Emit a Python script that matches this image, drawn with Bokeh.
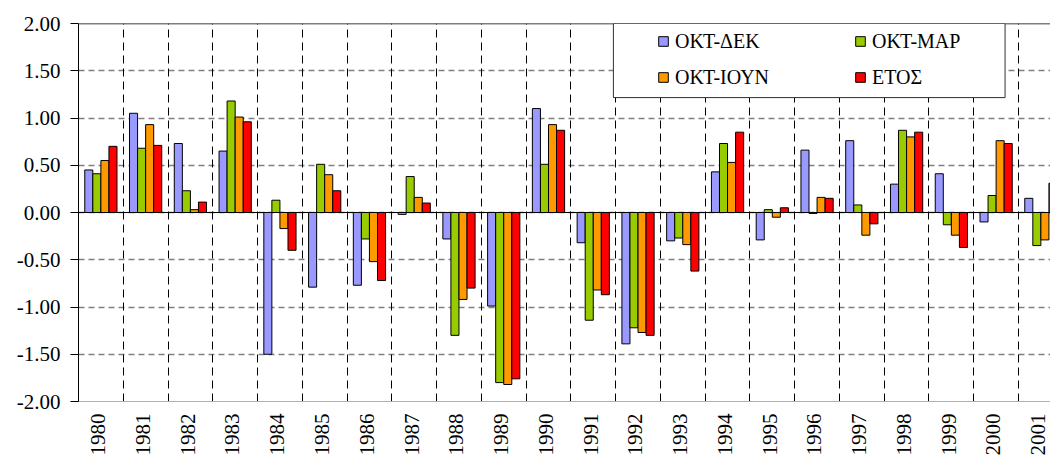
import numpy as np
from bokeh.plotting import figure
from bokeh.models import (Range1d, FixedTicker, Grid, Span, BoxAnnotation, Legend,
                          LegendItem, NumeralTickFormatter)
from bokeh.embed import file_html
from bokeh.resources import INLINE

# ---- data ----
years = [1980, 1981, 1982, 1983, 1984, 1985, 1986, 1987, 1988, 1989, 1990,
         1991, 1992, 1993, 1994, 1995, 1996, 1997, 1998, 1999, 2000, 2001]
okt_dek = [0.45, 1.05, 0.73, 0.65, -1.50, -0.79, -0.77, -0.02, -0.28, -0.99, 1.10,
           -0.32, -1.39, -0.30, 0.43, -0.29, 0.66, 0.76, 0.30, 0.41, -0.10, 0.15]
okt_mar = [0.41, 0.68, 0.23, 1.18, 0.13, 0.51, -0.28, 0.38, -1.30, -1.80, 0.51,
           -1.14, -1.22, -0.27, 0.73, 0.03, -0.01, 0.08, 0.87, -0.13, 0.18, -0.35]
okt_ioun = [0.55, 0.93, 0.03, 1.01, -0.17, 0.40, -0.52, 0.16, -0.92, -1.82, 0.93,
            -0.82, -1.27, -0.34, 0.53, -0.05, 0.16, -0.24, 0.80, -0.24, 0.76, -0.29]
etos = [0.70, 0.71, 0.11, 0.96, -0.40, 0.23, -0.72, 0.10, -0.80, -1.76, 0.87,
        -0.87, -1.30, -0.62, 0.85, 0.05, 0.15, -0.12, 0.85, -0.37, 0.73, 0.31]
series_labels = ["ΟΚΤ-ΔΕΚ", "ΟΚΤ-ΜΑΡ", "ΟΚΤ-ΙΟΥΝ", "ΕΤΟΣ"]
y_ticks = [-2.0, -1.5, -1.0, -0.5, 0.0, 0.5, 1.0, 1.5, 2.0]

# ---- style ----
FONT = "'Liberation Serif', 'Times New Roman', Times, serif"
colors = ["#9999FF", "#99CC00", "#FF9900", "#FF0000"]
offsets = [-0.27, -0.09, 0.09, 0.27]
BAR_W = 0.18
LABEL_SHIFT = -0.06   # rotated year labels sit slightly left of the group centre

p = figure(width=1050, height=462, output_backend="svg", toolbar_location=None,
           x_range=Range1d(-0.5, 21.215), y_range=Range1d(y_ticks[0], y_ticks[-1]),
           min_border_left=78, min_border_right=0, min_border_top=23, min_border_bottom=61)
p.outline_line_color = None
p.background_fill_color = "white"
p.border_fill_color = "white"

idx = np.arange(len(years))
renderers = []
for vals, col, off in zip([okt_dek, okt_mar, okt_ioun, etos], colors, offsets):
    r = p.vbar(x=idx + off, top=vals, bottom=0, width=BAR_W,
               fill_color=col, line_color="black", line_width=1)
    renderers.append(r)

# x axis
tick_pos = [float(i) + LABEL_SHIFT for i in idx]
p.xaxis.ticker = FixedTicker(ticks=tick_pos)
p.xaxis.major_label_overrides = {t: str(y) for t, y in zip(tick_pos, years)}
p.xaxis.major_label_orientation = np.pi / 2
p.xaxis.major_tick_out = 0
p.xaxis.major_tick_in = 0
p.xaxis.minor_tick_line_color = None
p.xaxis.axis_line_color = "#b0b0b0"
p.xaxis.major_label_standoff = 12
p.xaxis.major_label_text_font = FONT
p.xaxis.major_label_text_font_size = "21px"
p.xaxis.major_label_text_color = "black"

# y axis
p.yaxis.ticker = FixedTicker(ticks=y_ticks)
p.yaxis.formatter = NumeralTickFormatter(format="0.00")
p.yaxis.major_tick_out = 8
p.yaxis.major_tick_in = 0
p.yaxis.minor_tick_line_color = None
p.yaxis.axis_line_color = "black"
p.yaxis.major_tick_line_color = "black"
p.yaxis.major_label_standoff = 10
p.yaxis.major_label_text_font = FONT
p.yaxis.major_label_text_font_size = "21px"
p.yaxis.major_label_text_color = "black"

# grids
p.xgrid.visible = False
p.ygrid.ticker = FixedTicker(ticks=y_ticks)
p.ygrid.grid_line_color = "#808080"
p.ygrid.grid_line_dash = "6 4"
p.ygrid.grid_line_width = 1.5
bounds = [k + 0.5 for k in range(-1, len(years))]
vgrid = Grid(dimension=0, ticker=FixedTicker(ticks=bounds), grid_line_color="black",
             grid_line_dash="8 5", grid_line_width=1)
p.add_layout(vgrid)

p.add_layout(Span(location=0, dimension="width", line_color="black", line_width=1))
p.add_layout(Span(location=y_ticks[-1], dimension="width", line_color="black", line_width=1.5))

# legend box + two legend columns
box = BoxAnnotation(left=11.45, right=20.20, bottom=1.216, top=2.0,
                    fill_color="white", fill_alpha=1.0,
                    line_color="#303030", line_alpha=1.0, line_width=1)
p.add_layout(box)

items = [LegendItem(label=l, renderers=[r]) for l, r in zip(series_labels, renderers)]
legend_style = dict(orientation="vertical", padding=0, margin=0, spacing=12,
                    glyph_width=12, glyph_height=12, label_standoff=6,
                    label_width=20, label_height=24,
                    label_text_font=FONT, label_text_font_size="20px",
                    label_text_color="black",
                    background_fill_alpha=0, border_line_color=None)
legend_left = Legend(items=[items[0], items[2]], location=(579, 312), **legend_style)
legend_right = Legend(items=[items[1], items[3]], location=(776, 312), **legend_style)
p.add_layout(legend_left, "center")
p.add_layout(legend_right, "center")

open("out.html", "w").write(file_html(p, INLINE))
